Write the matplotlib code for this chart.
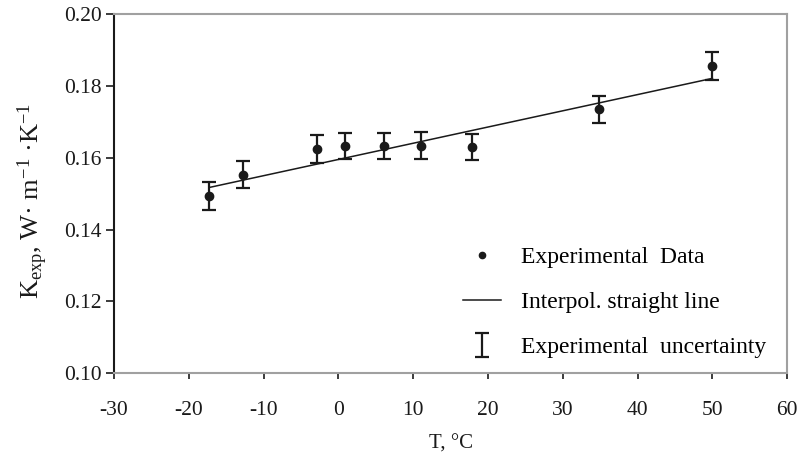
import matplotlib
matplotlib.use("Agg")
import matplotlib.pyplot as plt

plt.rcParams['font.family'] = ['Liberation Serif', 'DejaVu Serif']
plt.rcParams['mathtext.fontset'] = 'custom'
plt.rcParams['mathtext.rm'] = 'Liberation Serif'
plt.rcParams['mathtext.it'] = 'Liberation Serif:italic'
plt.rcParams['axes.unicode_minus'] = False

# measured thermal conductivity vs temperature
temp = [-17.3, -12.7, -2.8, 0.9, 6.1, 11.1, 17.9, 34.8, 50.0]
k_exp = [0.1493, 0.1553, 0.1624, 0.1633, 0.1633, 0.1634, 0.1630, 0.1735, 0.1855]
k_err = [0.0038, 0.0037, 0.0038, 0.0036, 0.0036, 0.0038, 0.0037, 0.0037, 0.0038]

# fitted straight line end points
fit_t = [-17.3, 50.0]
fit_k = [0.1517, 0.1821]

x_ticks = [-30, -20, -10, 0, 10, 20, 30, 40, 50, 60]
y_ticks = [0.10, 0.12, 0.14, 0.16, 0.18, 0.20]

fig = plt.figure(figsize=(8, 4.54), dpi=100)
ax = fig.add_axes([0.1425, 0.178, 0.8415, 0.791])

h_err = ax.errorbar(temp, k_exp, yerr=k_err, fmt='none', ecolor='#1a1a1a',
                    elinewidth=1.6, capsize=5, capthick=1.6)
h_fit, = ax.plot(fit_t, fit_k, color='#1a1a1a', lw=1.1)
h_pts, = ax.plot(temp, k_exp, 'o', color='#1a1a1a', ms=6)

ax.set_xlim(-30, 60)
ax.set_ylim(0.10, 0.20)
ax.set_xticks(x_ticks)
ax.set_xticklabels([str(t) for t in x_ticks])
ax.set_yticks(y_ticks)
ax.set_yticklabels([f'{v:.2f}' for v in y_ticks])
ax.tick_params(axis='both', labelsize=15.5, colors='#1a1a1a', width=1.2)
ax.tick_params(axis='x', length=4, pad=16)
ax.tick_params(axis='y', length=6, pad=3)

for side in ('top', 'right', 'bottom'):
    ax.spines[side].set_color('#a0a0a0')
    ax.spines[side].set_linewidth(1.5)
ax.spines['left'].set_color('#1a1a1a')
ax.spines['left'].set_linewidth(1.5)

ax.set_xlabel('T, °C', fontsize=15, color='#1a1a1a')
ax.xaxis.set_label_coords(0.5, -0.17)
ax.set_ylabel('K$_{\\mathrm{exp}}$, W· m$^{-1}$ ·K$^{-1}$', fontsize=19, color='#1a1a1a')
ax.yaxis.set_label_coords(-0.095, 0.48)

ax.legend([h_pts, h_fit, h_err],
          ['Experimental  Data', 'Interpol. straight line', 'Experimental  uncertainty'],
          loc='center left', bbox_to_anchor=(0.518, 0.197), frameon=False,
          fontsize=17, labelspacing=1.0, handlelength=1.62, handletextpad=0.85,
          markerscale=0.75, borderaxespad=0, borderpad=0)

fig.savefig('out.png', dpi=100)
